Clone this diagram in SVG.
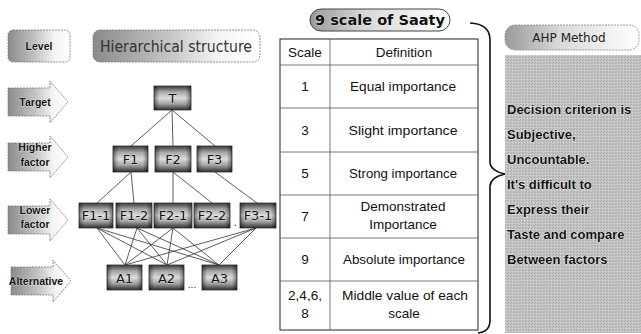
<svg xmlns="http://www.w3.org/2000/svg" width="641" height="334" viewBox="0 0 641 334">
<defs>
<linearGradient id="lvl" x1="0" y1="0" x2="1" y2="0">
<stop offset="0" stop-color="#8a8a8a"/><stop offset="0.45" stop-color="#c4c4c4"/><stop offset="0.75" stop-color="#f4f4f4"/><stop offset="1" stop-color="#ffffff"/>
</linearGradient>
<linearGradient id="pill" x1="0" y1="0" x2="1" y2="0">
<stop offset="0" stop-color="#9a9a9a"/><stop offset="0.4" stop-color="#d8d8d8"/><stop offset="1" stop-color="#ffffff"/>
</linearGradient>
<linearGradient id="node" x1="0" y1="0" x2="0" y2="1">
<stop offset="0" stop-color="#3a3a3a"/><stop offset="0.25" stop-color="#a8a8a8"/><stop offset="0.5" stop-color="#dcdcdc"/><stop offset="0.75" stop-color="#a0a0a0"/><stop offset="1" stop-color="#2e2e2e"/>
</linearGradient>
<linearGradient id="nodeside" x1="0" y1="0" x2="1" y2="0">
<stop offset="0" stop-color="#000" stop-opacity="0.45"/><stop offset="0.15" stop-color="#000" stop-opacity="0"/><stop offset="0.85" stop-color="#000" stop-opacity="0"/><stop offset="1" stop-color="#000" stop-opacity="0.45"/>
</linearGradient>
<pattern id="dither" width="3" height="3" patternUnits="userSpaceOnUse">
<rect width="3" height="3" fill="#c2c2c2"/><rect x="0" y="0" width="1" height="1" fill="#a8a8a8"/><rect x="2" y="1" width="1" height="1" fill="#dadada"/><rect x="1" y="2" width="1" height="1" fill="#b0b0b0"/>
</pattern>
<path id="arr" d="M0,7 H42 V0 L60,21 L42,42 V35 H0 Z"/>
</defs>
<style>
.lvl{fill:url(#lvl);stroke:#777;stroke-width:0.8;stroke-dasharray:2 1}
.lt{font-family:"Liberation Sans",Arial,sans-serif;font-weight:bold;font-size:10.5px;fill:#111;text-anchor:middle;stroke:#fff;stroke-width:0.6;paint-order:stroke}
.nd{fill:url(#node);stroke:#333;stroke-width:0.8}
.ns{fill:url(#nodeside)}
.nt{font-family:"DejaVu Sans",sans-serif;font-size:13px;fill:#111;text-anchor:middle;stroke:#eee;stroke-width:0.5;paint-order:stroke}
.cn line{stroke:#333;stroke-width:0.8}
.tb{fill:none;stroke:#222;stroke-width:1}
.tl{stroke:#555;stroke-width:0.8}
.tt{font-family:"Liberation Sans Narrow","Liberation Sans",Arial,sans-serif;font-size:13.5px;fill:#111;text-anchor:middle}
.at{font-family:"Liberation Sans",Arial,sans-serif;font-weight:bold;font-size:13px;fill:#111;stroke:#fff;stroke-width:0.7;paint-order:stroke}
</style>

<g id="level">
<rect class="lvl" x="8" y="30" width="62" height="32" rx="5"/>
<text class="lt" x="39" y="50">Level</text>
</g>
<g id="hier-title">
<rect class="lvl" x="93" y="30" width="167" height="32" rx="7"/>
<text x="176" y="52" font-family="DejaVu Sans,sans-serif" font-size="15" fill="#333" text-anchor="middle" textLength="152" lengthAdjust="spacingAndGlyphs">Hierarchical structure</text>
</g>
<g id="lvl-target">
<use href="#arr" class="lvl" transform="translate(8,81)"/>
<text class="lt" x="35" y="106">Target</text>
</g>
<g id="lvl-higher">
<use href="#arr" class="lvl" transform="translate(8,136)"/>
<text class="lt" x="35" y="151">Higher</text>
<text class="lt" x="35" y="166">factor</text>
</g>
<g id="lvl-lower">
<use href="#arr" class="lvl" transform="translate(8,199)"/>
<text class="lt" x="35" y="214">Lower</text>
<text class="lt" x="35" y="228">factor</text>
</g>
<g id="lvl-alt">
<use href="#arr" class="lvl" transform="translate(11,260)"/>
<text class="lt" x="36" y="285">Alternative</text>
</g>

<g id="connectors" class="cn">
<line x1="172" y1="110" x2="131" y2="146"/>
<line x1="172" y1="110" x2="173" y2="146"/>
<line x1="172" y1="110" x2="215" y2="146"/>
<line x1="131" y1="172" x2="97" y2="203"/>
<line x1="131" y1="172" x2="134" y2="203"/>
<line x1="173" y1="172" x2="173" y2="203"/>
<line x1="173" y1="172" x2="212" y2="203"/>
<line x1="215" y1="172" x2="257" y2="203"/>
<line x1="97" y1="228" x2="125" y2="265"/>
<line x1="97" y1="228" x2="167" y2="265"/>
<line x1="97" y1="228" x2="219" y2="265"/>
<line x1="137" y1="228" x2="125" y2="265"/>
<line x1="137" y1="228" x2="167" y2="265"/>
<line x1="137" y1="228" x2="219" y2="265"/>
<line x1="173" y1="228" x2="125" y2="265"/>
<line x1="173" y1="228" x2="167" y2="265"/>
<line x1="173" y1="228" x2="219" y2="265"/>
<line x1="256" y1="228" x2="125" y2="265"/>
<line x1="256" y1="228" x2="167" y2="265"/>
<line x1="256" y1="228" x2="219" y2="265"/>
</g>

<g id="n-T"><rect class="nd" x="154" y="86" width="37" height="24"/><rect class="ns" x="154" y="86" width="37" height="24"/><text class="nt" x="172.5" y="103">T</text></g>
<g id="n-F1"><rect class="nd" x="113" y="146" width="35" height="26"/><rect class="ns" x="113" y="146" width="35" height="26"/><text class="nt" x="130.5" y="164">F1</text></g>
<g id="n-F2"><rect class="nd" x="155" y="146" width="36" height="26"/><rect class="ns" x="155" y="146" width="36" height="26"/><text class="nt" x="173" y="164">F2</text></g>
<g id="n-F3"><rect class="nd" x="197" y="146" width="35" height="26"/><rect class="ns" x="197" y="146" width="35" height="26"/><text class="nt" x="214.5" y="164">F3</text></g>
<g id="n-F1-1"><rect class="nd" x="79" y="203" width="34" height="25"/><rect class="ns" x="79" y="203" width="34" height="25"/><text class="nt" x="96" y="220">F1-1</text></g>
<g id="n-F1-2"><rect class="nd" x="116" y="203" width="36" height="25"/><rect class="ns" x="116" y="203" width="36" height="25"/><text class="nt" x="134" y="220">F1-2</text></g>
<g id="n-F2-1"><rect class="nd" x="154" y="203" width="38" height="25"/><rect class="ns" x="154" y="203" width="38" height="25"/><text class="nt" x="173" y="220">F2-1</text></g>
<g id="n-F2-2"><rect class="nd" x="194" y="203" width="36" height="25"/><rect class="ns" x="194" y="203" width="36" height="25"/><text class="nt" x="212" y="220">F2-2</text></g>
<text x="235" y="226" font-family="DejaVu Sans,sans-serif" font-size="10" fill="#222" text-anchor="middle">.</text>
<g id="n-F3-1"><rect class="nd" x="240" y="203" width="36" height="25"/><rect class="ns" x="240" y="203" width="36" height="25"/><text class="nt" x="258" y="220">F3-1</text></g>
<g id="n-A1"><rect class="nd" x="107" y="265" width="35" height="25"/><rect class="ns" x="107" y="265" width="35" height="25"/><text class="nt" x="124.5" y="283">A1</text></g>
<g id="n-A2"><rect class="nd" x="149" y="265" width="35" height="25"/><rect class="ns" x="149" y="265" width="35" height="25"/><text class="nt" x="166.5" y="283">A2</text></g>
<text x="192" y="288" font-family="DejaVu Sans,sans-serif" font-size="9" fill="#222" text-anchor="middle">...</text>
<g id="n-A3"><rect class="nd" x="202" y="265" width="35" height="25"/><rect class="ns" x="202" y="265" width="35" height="25"/><text class="nt" x="219.5" y="283">A3</text></g>

<g id="saaty-title">
<rect x="310" y="9" width="140" height="22" rx="11" fill="url(#pill)" stroke="#444" stroke-width="1"/>
<text x="380" y="25" font-family="DejaVu Sans,sans-serif" font-weight="bold" font-size="14" fill="#111" text-anchor="middle" stroke="#fff" stroke-width="0.6" paint-order="stroke" textLength="130" lengthAdjust="spacingAndGlyphs">9 scale of Saaty</text>
</g>

<g id="saaty-table">
<rect class="tb" x="280" y="39" width="198" height="291"/>
<line class="tl" x1="330" y1="39" x2="330" y2="330"/>
<line class="tl" x1="280" y1="65" x2="478" y2="65"/>
<line class="tl" x1="280" y1="108" x2="478" y2="108"/>
<line class="tl" x1="280" y1="152" x2="478" y2="152"/>
<line class="tl" x1="280" y1="195" x2="478" y2="195"/>
<line class="tl" x1="280" y1="238" x2="478" y2="238"/>
<line class="tl" x1="280" y1="281" x2="478" y2="281"/>
<text class="tt" x="305" y="57">Scale</text>
<text class="tt" x="404" y="57">Definition</text>
<text class="tt" x="305" y="91">1</text>
<text class="tt" x="403" y="91" textLength="106" lengthAdjust="spacingAndGlyphs">Equal importance</text>
<text class="tt" x="305" y="135">3</text>
<text class="tt" x="403" y="135" textLength="109" lengthAdjust="spacingAndGlyphs">Slight importance</text>
<text class="tt" x="305" y="178">5</text>
<text class="tt" x="403" y="178" textLength="108" lengthAdjust="spacingAndGlyphs">Strong importance</text>
<text class="tt" x="305" y="221">7</text>
<text class="tt" x="403" y="211">Demonstrated</text>
<text class="tt" x="403" y="229">Importance</text>
<text class="tt" x="305" y="264">9</text>
<text class="tt" x="404" y="264" textLength="122" lengthAdjust="spacingAndGlyphs">Absolute importance</text>
<text class="tt" x="305" y="300">2,4,6,</text>
<text class="tt" x="305" y="318">8</text>
<text class="tt" x="405" y="300" textLength="126" lengthAdjust="spacingAndGlyphs">Middle value of each</text>
<text class="tt" x="404" y="318">scale</text>
</g>

<g id="brace">
<path d="M470,23 Q490,24 490,40 V163 Q491,171 505,174 Q491,177 490,186 V320 Q490,332 478,333" fill="none" stroke="#111" stroke-width="1.6"/>
</g>

<g id="ahp-title">
<rect x="505" y="25" width="134" height="25" rx="10" fill="url(#pill)" stroke="#888" stroke-width="0.8" stroke-dasharray="2 1"/>
<text x="569" y="42" font-family="DejaVu Sans,sans-serif" font-size="12" fill="#222" text-anchor="middle">AHP Method</text>
</g>
<g id="ahp-body">
<rect x="505" y="55" width="136" height="278" fill="url(#dither)"/>
<text class="at" x="507" y="114">Decision criterion is</text>
<text class="at" x="507" y="139">Subjective,</text>
<text class="at" x="507" y="164">Uncountable.</text>
<text class="at" x="507" y="189">It's difficult to</text>
<text class="at" x="507" y="214">Express their</text>
<text class="at" x="507" y="239">Taste and compare</text>
<text class="at" x="507" y="264">Between factors</text>
</g>
</svg>
